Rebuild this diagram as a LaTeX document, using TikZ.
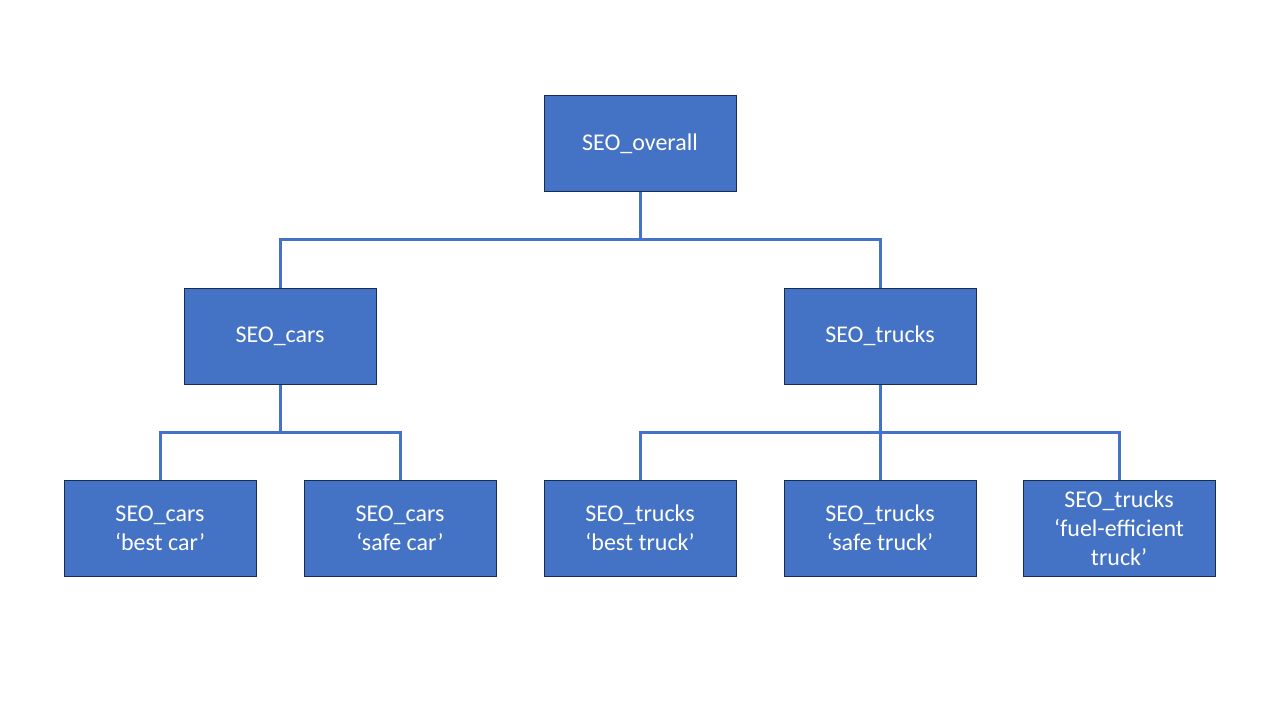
\documentclass[tikz,border=0pt]{standalone}
\usepackage{fontspec}
\setmainfont{Carlito}
\usetikzlibrary{positioning}
\definecolor{boxblue}{HTML}{4472C4}
\definecolor{boxedge}{HTML}{172C51}
\tikzset{
  seo/.style={draw=boxedge, line width=0.75pt, fill=boxblue, text=white,
    minimum width=144pt, minimum height=72pt, align=center, inner sep=0pt,
    font=\fontsize{18}{21.6}\selectfont},
  link/.style={draw=boxblue, line width=2.25pt}
}
\begin{document}
\begin{tikzpicture}[x=0.75pt,y=-0.75pt]
    \useasboundingbox (0,0) rectangle (1280,720);

    \node[seo] (overall) at (640,144) {SEO\_overall};
    \node[seo] (cars) at (280,336) {SEO\_cars};
    \node[seo] (trucks) at (880,336) {SEO\_trucks};

    \node[seo] (bestcar) at (160,528) {SEO\_cars\\‘best car’};
    \node[seo] (safecar) at (400,528) {SEO\_cars\\‘safe car’};
    \node[seo] (besttruck) at (640,528) {SEO\_trucks\\‘best truck’};
    \node[seo] (safetruck) at (880,528) {SEO\_trucks\\‘safe truck’};
    \node[seo] (fueltruck) at (1119,528) {SEO\_trucks\\‘fuel-efficient\\truck’};

    \coordinate (j1) at (640,240);
    \coordinate (j2) at (280,432);
    \coordinate (j3) at (880,432);

    \draw[link] (overall.south) -- (j1);
    \draw[link] (cars.north) -- (cars.north |- j1) -- (trucks.north |- j1) -- (trucks.north);

    \draw[link] (cars.south) -- (j2);
    \draw[link] (bestcar.north) -- (bestcar.north |- j2) -- (safecar.north |- j2) -- (safecar.north);

    \draw[link] (trucks.south) -- (j3);
    \draw[link] (besttruck.north) -- (besttruck.north |- j3) -- (fueltruck.north |- j3) -- (fueltruck.north);
    \draw[link] (safetruck.north) -- (j3);
\end{tikzpicture}
\end{document}
